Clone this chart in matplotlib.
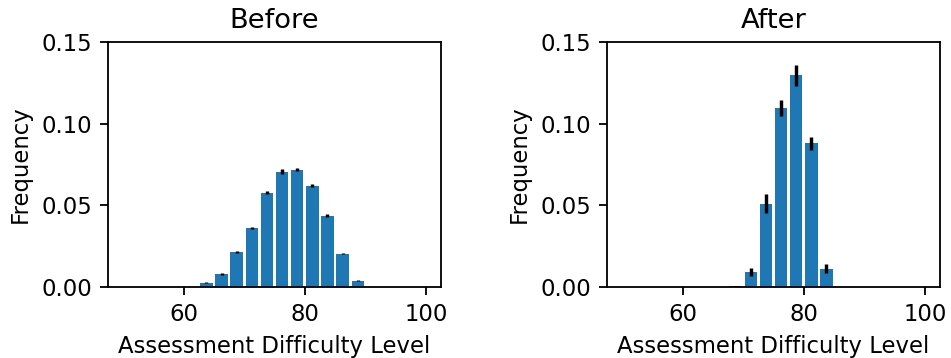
import matplotlib
matplotlib.use("Agg")
import matplotlib.pyplot as plt
import numpy as np

plt.rcParams['font.family'] = ['DejaVu Sans']
plt.rcParams['font.size'] = 10

bin_centers = [51.25, 53.75, 56.25, 58.75, 61.25, 63.75, 66.25, 68.75, 71.25, 73.75,
               76.25, 78.75, 81.25, 83.75, 86.25, 88.75, 91.25, 93.75, 96.25, 98.75]

before_vals = [0, 0, 0, 0, 0, 0.0027, 0.0078, 0.0216, 0.0363, 0.0578,
               0.0706, 0.0718, 0.0620, 0.0437, 0.0204, 0.0039, 0, 0, 0, 0]
before_err = [0.0003, 0.0003, 0.0003, 0.0003, 0.0003, 0.0003, 0.0006, 0.0005, 0.0007, 0.0010,
              0.0017, 0.0010, 0.0010, 0.0007, 0.0005, 0.0003, 0.0003, 0.0003, 0.0003, 0.0003]

after_vals = [0, 0, 0, 0, 0, 0, 0, 0.0006, 0.0094, 0.0510,
              0.1094, 0.1297, 0.0879, 0.0111, 0, 0, 0, 0, 0, 0]
after_err = [0.0003, 0.0003, 0.0003, 0.0003, 0.0003, 0.0003, 0.0003, 0.0003, 0.0024, 0.0058,
             0.0048, 0.0065, 0.0040, 0.0028, 0.0003, 0.0003, 0.0003, 0.0003, 0.0003, 0.0003]

titles = ["Before", "After"]
x_ticks = [60, 80, 100]
y_ticks = [0.00, 0.05, 0.10, 0.15]

DPI = 164
fig = plt.figure(figsize=(951 / DPI, 358 / DPI), dpi=DPI)
ax1 = fig.add_axes([108/951, 71/358, 333/951, 245/358])
ax2 = fig.add_axes([607/951, 71/358, 333/951, 245/358])

for ax, vals, errs, title in [(ax1, before_vals, before_err, titles[0]),
                              (ax2, after_vals, after_err, titles[1])]:
    ax.bar(bin_centers, vals, width=2.05, color='#1f77b4',
           yerr=errs, error_kw=dict(ecolor='black'))
    ax.set_xlim(47.5, 102.5)
    ax.set_ylim(0, 0.15)
    ax.set_xticks(x_ticks)
    ax.set_yticks(y_ticks)
    ax.set_yticklabels([f"{v:.2f}" for v in y_ticks])
    ax.set_title(title)
    ax.set_xlabel("Assessment Difficulty Level")
    ax.set_ylabel("Frequency")

fig.savefig("out.png", dpi=DPI)
